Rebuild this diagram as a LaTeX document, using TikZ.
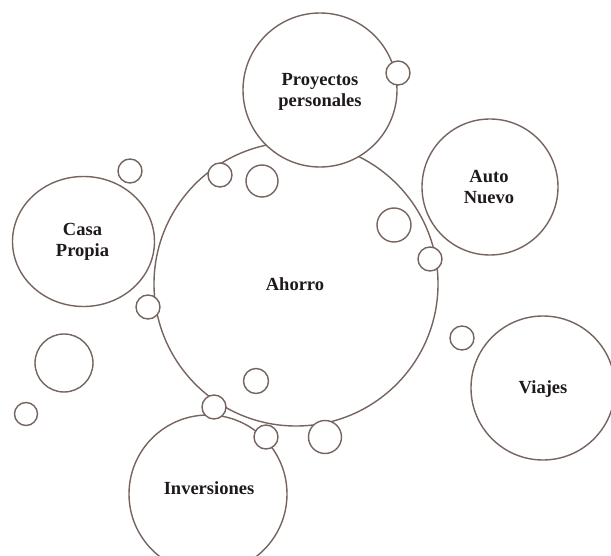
\documentclass[tikz,border=0pt]{standalone}
\usepackage{fontspec}
\setmainfont{Liberation Serif}
\usetikzlibrary{shapes.geometric}
\definecolor{ring}{HTML}{76645F}
\definecolor{ink}{HTML}{1E1A19}
\tikzset{
  bubble/.style={circle, draw=ring, fill=white, line width=1.4pt, inner sep=0pt, minimum size=#1},
  oval/.style={ellipse, draw=ring, fill=white, line width=1.4pt, inner sep=0pt},
  caption/.style={text=ink, font=\bfseries\fontsize{18.5}{20.5}\selectfont, align=center, inner sep=0pt}
}
\begin{document}
\begin{tikzpicture}[x=1pt, y=-1pt]
  \clip (0,0) rectangle (611,556);
  \fill[white] (0,0) rectangle (611,556);

  % central bubble
  \node[bubble=284pt] (ahorro) at (296,284) {};

  % goal bubbles around it
  \node[oval, minimum width=142pt, minimum height=130pt] (casa) at (83.5,241.5) {};
  \node[bubble=136pt] (auto) at (490,187) {};
  \node[bubble=144pt] (viajes) at (543,388) {};
  \node[bubble=158pt] (inversiones) at (208,494) {};
  \node[bubble=154pt] (proyectos) at (320,90) {};

  % small decorative bubbles
  \node[bubble=24pt] (b1) at (398,73) {};
  \node[bubble=24pt] (b2) at (130,171) {};
  \node[bubble=24pt] (b3) at (220,175) {};
  \node[bubble=32pt] (b4) at (262,181) {};
  \node[bubble=34pt] (b5) at (394,225) {};
  \node[bubble=24pt] (b6) at (430,259) {};
  \node[bubble=24pt] (b7) at (148,307) {};
  \node[bubble=58pt] (b8) at (64,363) {};
  \node[bubble=23pt] (b9) at (26,414) {};
  \node[bubble=24pt] (b10) at (462,338) {};
  \node[bubble=25pt] (b11) at (256,381) {};
  \node[bubble=24pt] (b12) at (214,407) {};
  \node[bubble=24pt] (b13) at (266,437) {};
  \node[bubble=33pt] (b14) at (325,437) {};

  % captions
  \node[caption] (t-ahorro) at (295,284) {Ahorro};
  \node[caption] (t-proyectos) at (320,92) {Proyectos\\personales};
  \node[caption] (t-auto) at (489,187) {Auto\\Nuevo};
  \node[caption] (t-casa) at (82.5,242) {Casa\\Propia};
  \node[caption] (t-viajes) at (543,389) {Viajes};
  \node[caption] (t-inversiones) at (209,488) {Inversiones};
\end{tikzpicture}
\end{document}
